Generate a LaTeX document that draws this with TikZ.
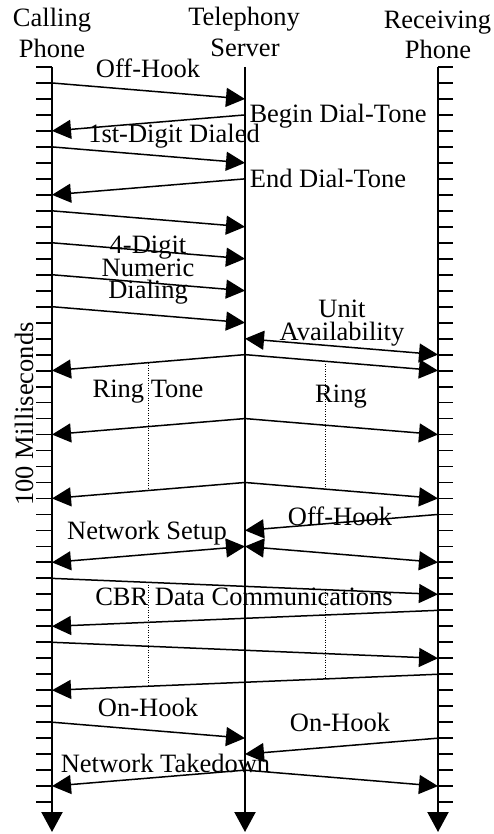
\documentclass[tikz,border=0pt]{standalone}
\usepackage{fontspec}
\setmainfont{Liberation Serif}
\usetikzlibrary{arrows.meta,calc}

\begin{document}
\begin{tikzpicture}[x=1pt,y=-1pt,
  lifeline/.style={line width=2.2pt,-{Triangle[length=20pt,width=21pt]}},
  tickmark/.style={line width=1.8pt},
  msg/.style={line width=1.5pt,-{Triangle[length=19pt,width=19pt]}},
  msgboth/.style={line width=1.5pt,{Triangle[length=19pt,width=19pt]}-{Triangle[length=19pt,width=19pt]}},
  gap/.style={line width=1pt,dash pattern=on 1pt off 1.5pt},
  lbl/.style={font=\fontsize{26.5}{28}\selectfont,inner sep=0pt,anchor=base},
]
\useasboundingbox (0,0) rectangle (494,834);

% time slots on the three lifelines (one every 100 ms)
\foreach \k in {0,...,46}{
  \coordinate (L\k) at (52,67+15.98*\k);
  \coordinate (M\k) at (245,67+15.98*\k);
  \coordinate (R\k) at (438,67+15.98*\k);
}
\coordinate (Lend) at (52,832);
\coordinate (Mend) at (245,832);
\coordinate (Rend) at (438,832);

% lifelines
\draw[lifeline] (L0) -- (Lend);
\draw[lifeline] (M0) -- (Mend);
\draw[lifeline] (R0) -- (Rend);

% tick marks
\foreach \k in {0,...,46}{
  \draw[tickmark] ($(L\k)+(-16,0)$) -- (L\k);
  \draw[tickmark] (R\k) -- ($(R\k)+(15,0)$);
}

% headers
\node[lbl] (tCall) at (52,27) {Calling};
\node[lbl] (tCallPh) at (52,58) {Phone};
\node[lbl] (tTel) at (244,26) {Telephony};
\node[lbl] (tSrv) at (245,57) {Server};
\node[lbl] (tRec) at (437.5,29) {Receiving};
\node[lbl] (tRecPh) at (438,59) {Phone};
\node[lbl,rotate=90] (tMs) at (33,414) {100 Milliseconds};

% dialing phase
\draw[msg] (L1) -- (M2);
\draw[msg] (M3) -- (L4);
\draw[msg] (L5) -- (M6);
\draw[msg] (M7) -- (L8);
\draw[msg] (L9) -- (M10);
\draw[msg] (L11) -- (M12);
\draw[msg] (L13) -- (M14);
\draw[msg] (L15) -- (M16);

\node[lbl] (tOffA) at (148,78) {Off-Hook};
\node[lbl] (tBegin) at (338,123) {Begin Dial-Tone};
\node[lbl] (tFirst) at (174,143) {1st-Digit Dialed};
\node[lbl] (tEnd) at (328,188) {End Dial-Tone};
\node[lbl] (tDig1) at (148,253) {4-Digit};
\node[lbl] (tDig2) at (148,276) {Numeric};
\node[lbl] (tDig3) at (148,298) {Dialing};

% availability and ringing
\draw[msgboth] (M17) -- (R18);
\node[lbl] (tUnit1) at (342,317) {Unit};
\node[lbl] (tUnit2) at (342,340) {Availability};

\draw[msg] (M18) -- (L19);
\draw[msg] (M18) -- (R19);
\draw[msg] (M22) -- (L23);
\draw[msg] (M22) -- (R23);
\draw[msg] (M26) -- (L27);
\draw[msg] (M26) -- (R27);

\coordinate (rtA) at ($(M18)!0.5026!(L19)$);
\coordinate (rtB) at ($(M26)!0.5026!(L27)$);
\coordinate (rgA) at ($(M18)!0.4145!(R19)$);
\coordinate (rgB) at ($(M26)!0.4145!(R27)$);
\draw[gap] (rtA) -- (rtB);
\draw[gap] (rgA) -- (rgB);
\node[lbl] (tRingTone) at (148,397) {Ring Tone};
\node[lbl] (tRing) at (341,402) {Ring};

% answer and network setup
\draw[msg] (R28) -- (M29);
\node[lbl] (tOffB) at (340,525) {Off-Hook};
\draw[msgboth] (L31) -- (M30);
\draw[msgboth] (M30) -- (R31);
\node[lbl] (tSetup) at (147,539) {Network Setup};

% data exchange
\draw[msg] (L32) -- (R33);
\draw[msg] (R34) -- (L35);
\draw[msg] (L36) -- (R37);
\draw[msg] (R38) -- (L39);
\coordinate (cbA) at ($(L32)!0.2487!(R33)$);
\coordinate (cbB) at ($(R38)!0.7513!(L39)$);
\coordinate (cbC) at ($(L32)!0.7073!(R33)$);
\coordinate (cbD) at ($(R38)!0.2927!(L39)$);
\draw[gap] (cbA) -- (cbB);
\draw[gap] (cbC) -- (cbD);
\node[lbl] (tCbr) at (244,605) {CBR Data Communications};

% hang-up and takedown
\draw[msg] (L41) -- (M42);
\node[lbl] (tOnA) at (148,716) {On-Hook};
\draw[msg] (R42) -- (M43);
\node[lbl] (tOnB) at (340,731) {On-Hook};
\draw[msg] (M44) -- (L45);
\draw[msg] (M44) -- (R45);
\node[lbl] (tDown) at (165.5,772) {Network Takedown};
\end{tikzpicture}
\end{document}
